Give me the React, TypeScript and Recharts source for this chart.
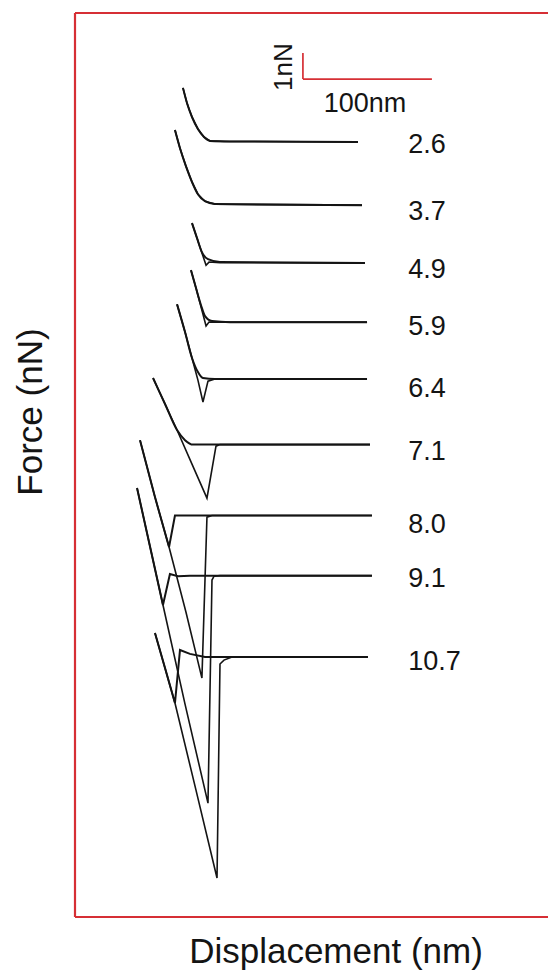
import React from 'react';
import { LineChart, Line, XAxis, YAxis, ReferenceLine, ReferenceDot } from 'recharts';

const FONT = '"Liberation Sans", Arial, Helvetica, sans-serif';
const RED = '#d62f35';
const INK = '#141414';

// loading-rate labels, one per force curve (top to bottom)
const rateLabels = ['2.6', '3.7', '4.9', '5.9', '6.4', '7.1', '8.0', '9.1', '10.7'];
// vertical offset (nN) of each curve's zero-force baseline
const baselineOffsets = [29.83, 27.4, 25.17, 22.88, 20.69, 18.17, 15.44, 13.13, 10.0];
// label anchor positions (nN / nm)
const labelForce = [29.77, 27.19, 24.96, 22.77, 20.35, 17.96, 15.15, 13.08, 9.88];
const labelDisplacement = 258.3;

// [displacement (nm), force relative to baseline (nN)]
const approach26 = [[83.7, 2.06], [86.8, 1.48], [90.7, 0.94], [95.3, 0.48], [100.0, 0.17], [104.7, 0.02], [120, 0], [219.4, -0.02]];
const retract26 = approach26;
const approach37 = [[77.5, 2.87], [81.4, 2.17], [86.0, 1.48], [90.7, 0.87], [95.3, 0.4], [100.8, 0.13], [108.5, 0.02], [222.5, -0.02]];
const retract37 = approach37;
const approach49 = [[90.7, 1.52], [94.6, 0.94], [98.4, 0.4], [103.1, 0.13], [112.4, 0.02], [224.8, -0.02]];
const retract49 = [[90.7, 1.52], [94.6, 0.94], [99.2, 0.25], [101.6, -0.1], [103.9, 0.02], [112.4, 0], [224.8, -0.02]];
const approach59 = [[89.9, 2.0], [93.8, 1.31], [97.7, 0.65], [100.8, 0.23], [106.2, 0.04], [120.2, 0], [226.4, 0]];
const retract59 = [[89.9, 2.0], [93.8, 1.31], [98.4, 0.46], [101.6, -0.15], [103.9, 0], [226.4, 0]];
const approach64 = [[79.1, 2.88], [85.3, 1.81], [90.7, 0.81], [95.3, 0.27], [99.2, 0.04], [108.5, 0], [226.4, 0]];
const retract64 = [[79.1, 2.88], [85.3, 1.81], [90.7, 0.81], [95.3, -0.04], [99.2, -0.88], [103.1, -0.08], [108.5, 0], [226.4, 0]];
const approach71 = [[60.5, 2.56], [69.8, 1.56], [79.1, 0.56], [85.3, 0.17], [91.5, 0], [109.3, 0], [228.7, 0]];
const retract71 = [[60.5, 2.56], [69.8, 1.56], [79.1, 0.56], [90.7, -0.75], [102.3, -2.06], [109.3, -0.06], [112.4, 0], [228.7, 0]];
const approach80 = [[50.4, 2.9], [62.0, 0.71], [72.9, -1.21], [77.5, 0], [85.3, 0], [230.2, 0]];
const retract80 = [[50.4, 2.9], [62.0, 0.71], [72.9, -1.21], [86.0, -3.71], [98.4, -6.25], [102.3, -0.06], [106.2, 0], [230.2, 0]];
const approach91 = [[48.1, 3.37], [58.1, 1.13], [68.2, -1.13], [73.6, 0.06], [79.8, -0.02], [89.1, 0], [230.2, 0]];
const retract91 = [[48.1, 3.37], [58.1, 1.13], [68.2, -1.13], [85.3, -4.94], [103.1, -8.75], [106.2, -0.17], [107.8, -0.02], [112.4, 0], [230.2, 0]];
const approach107 = [[62.0, 0.92], [69.8, -0.42], [77.5, -1.77], [81.4, 0.27], [89.1, 0.12], [100.8, 0], [227.1, 0]];
const retract107 = [[62.0, 0.92], [77.5, -1.77], [93.8, -5.12], [110.1, -8.5], [112.4, -0.27], [115.5, -0.12], [121.7, 0], [227.1, 0]];

const approachCurves = [approach26, approach37, approach49, approach59, approach64, approach71, approach80, approach91, approach107];
const retractCurves = [retract26, retract37, retract49, retract59, retract64, retract71, retract80, retract91, retract107];
const smoothCurve = [true, true, true, true, true, true, false, false, false];

// scale bar: 100 nm horizontal, 1 nN vertical
const scaleOrigin = { x: 176.7, y: 32.23 };
const scaleNm = 100;
const scaleNN = 1;

const X_MAX = 366.7;
const Y_MAX = 34.77;

const toData = (pts: number[][], off: number) => pts.map(([x, f]) => ({ x, y: +(f + off).toFixed(3) }));

export default function App() {
  return (
    <div style={{ position: 'absolute', left: 0, top: 0 }}>
      <LineChart width={548} height={973} margin={{ top: 13, right: 0, bottom: 56, left: 75 }}>
        <XAxis type="number" dataKey="x" domain={[0, X_MAX]} hide allowDataOverflow />
        <YAxis type="number" dataKey="y" domain={[0, Y_MAX]} hide allowDataOverflow />
        {/* frame */}
        <ReferenceLine x={0} stroke={RED} strokeWidth={2.2} />
        <ReferenceLine y={0} stroke={RED} strokeWidth={2.2} />
        <ReferenceLine y={Y_MAX} stroke={RED} strokeWidth={2.2} />
        {/* scale bar */}
        <ReferenceLine
          segment={[{ x: scaleOrigin.x, y: scaleOrigin.y }, { x: scaleOrigin.x, y: scaleOrigin.y + scaleNN }]}
          stroke={RED}
          strokeWidth={1.7}
        />
        <ReferenceLine
          segment={[{ x: scaleOrigin.x, y: scaleOrigin.y }, { x: scaleOrigin.x + scaleNm, y: scaleOrigin.y }]}
          stroke={RED}
          strokeWidth={1.7}
        />
        <ReferenceDot
          x={161.2}
          y={32.69}
          r={0}
          stroke="none"
          fill="none"
          label={{ value: '1nN', position: 'center', angle: -90, fontSize: 26, fill: INK, fontFamily: FONT }}
        />
        <ReferenceDot
          x={224.8}
          y={31.35}
          r={0}
          stroke="none"
          fill="none"
          label={{ value: '100nm', position: 'center', fontSize: 27, fill: INK, fontFamily: FONT }}
        />
        {approachCurves.map((pts, i) => (
          <Line
            key={'a' + i}
            data={toData(pts, baselineOffsets[i])}
            dataKey="y"
            type={smoothCurve[i] ? 'monotone' : 'linear'}
            stroke={INK}
            strokeWidth={2}
            dot={false}
            activeDot={false}
            isAnimationActive={false}
          />
        ))}
        {retractCurves.map((pts, i) => (
          <Line
            key={'r' + i}
            data={toData(pts, baselineOffsets[i])}
            dataKey="y"
            type="linear"
            stroke={INK}
            strokeWidth={1.6}
            dot={false}
            activeDot={false}
            isAnimationActive={false}
          />
        ))}
        {rateLabels.map((lab, i) => (
          <ReferenceDot
            key={'l' + i}
            x={labelDisplacement}
            y={labelForce[i]}
            r={0}
            stroke="none"
            fill="none"
            label={{ value: lab, position: 'right', offset: 0, fontSize: 27, fill: INK, fontFamily: FONT }}
          />
        ))}
        <text x={42} y={412} transform="rotate(-90 42 412)" textAnchor="middle" fontSize={35} fontFamily={FONT} fill={INK}>
          Force (nN)
        </text>
        <text x={336} y={963} textAnchor="middle" fontSize={35} fontFamily={FONT} fill={INK}>
          Displacement (nm)
        </text>
      </LineChart>
    </div>
  );
}
